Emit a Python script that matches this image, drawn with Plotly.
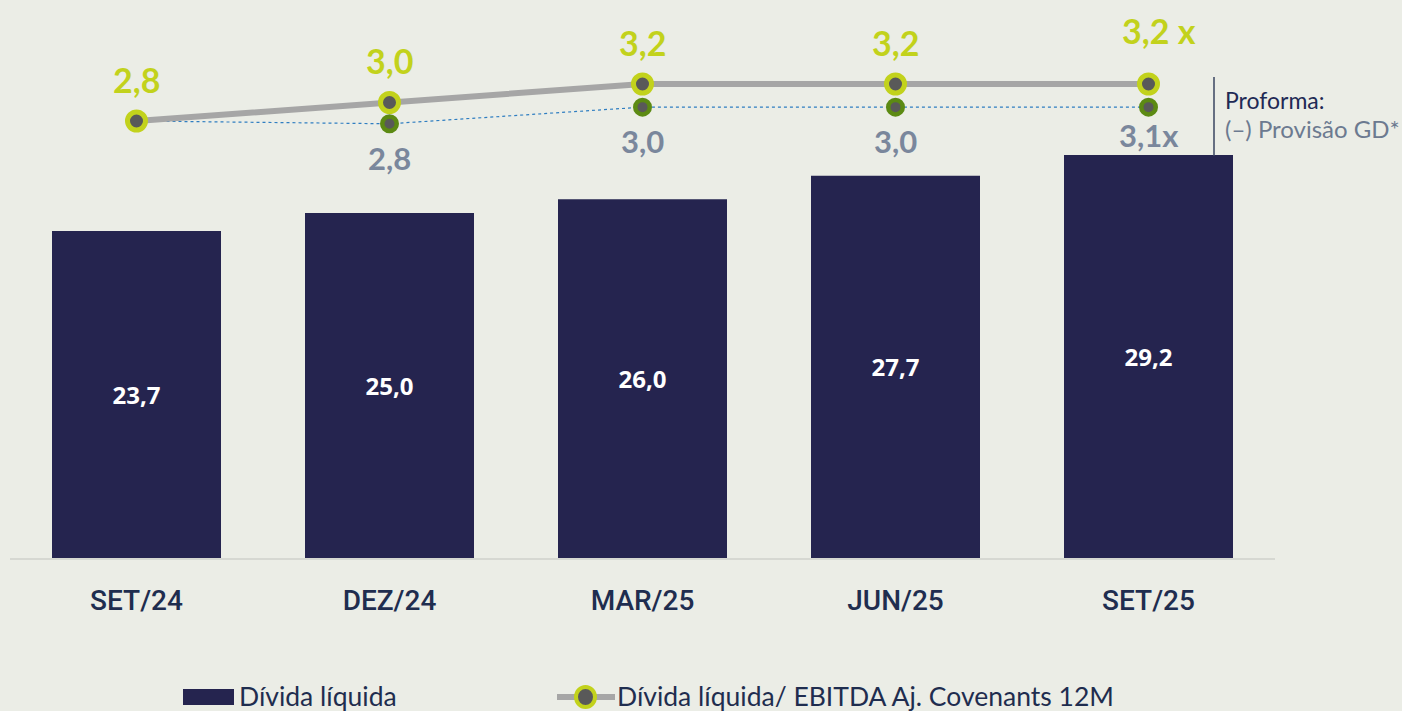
import plotly.graph_objects as go

categories = ["SET/24", "DEZ/24", "MAR/25", "JUN/25", "SET/25"]
divida_liquida = [23.7, 25.0, 26.0, 27.7, 29.2]
alavancagem = [2.8, 3.0, 3.2, 3.2, 3.2]
alavancagem_labels = ["2,8", "3,0", "3,2", "3,2", "3,2 x"]
proforma = [2.8, 2.77, 2.95, 2.95, 2.95]
proforma_labels = ["", "2,8", "3,0", "3,0", "3,1x"]

BG = "#EBEDE6"
NAVY = "#25244F"
GREEN = "#C2D21C"
DKGREEN = "#5C8A13"
GRAYTXT = "#7A879C"
TXT = "#1F2D4F"

W, H = 1402, 711
ML, MR, MT, MB = 10, 127, 0, 153
PW, PH = W - ML - MR, H - MT - MB


def px(x):
    return (x - ML) / PW


def py(y):
    return (H - MB - y) / PH


fig = go.Figure()

fig.add_trace(go.Bar(
    x=categories, y=divida_liquida,
    marker=dict(color=NAVY, line=dict(width=0)),
    width=0.668,
    text=[f"{v:.1f}".replace(".", ",") for v in divida_liquida],
    textposition="inside", insidetextanchor="middle", textangle=0,
    textfont=dict(family="Open Sans", size=24, color="white", weight="bold"),
    constraintext="none",
    name="Dívida líquida", showlegend=False, hoverinfo="skip",
))

fig.add_trace(go.Scatter(
    x=categories, y=proforma, yaxis="y2", mode="lines+markers",
    line=dict(color="#2F7EC1", width=1.2, dash="dot"),
    marker=dict(size=14.5, color="#595959", line=dict(color=DKGREEN, width=4.5)),
    showlegend=False, hoverinfo="skip",
))

fig.add_trace(go.Scatter(
    x=categories, y=alavancagem, yaxis="y2", mode="lines+markers",
    line=dict(color="#A6A6A6", width=6),
    marker=dict(size=18, color="#595959", line=dict(color=GREEN, width=5)),
    name="Dívida líquida/ EBITDA Aj. Covenants 12M", showlegend=False, hoverinfo="skip",
))

annotations = []
for i, (c, v, t) in enumerate(zip(categories, alavancagem, alavancagem_labels)):
    last = i == len(categories) - 1
    annotations.append(dict(
        x=c, y=v, xref="x", yref="y2", text=t, showarrow=False,
        yshift=54 if last else 42, xshift=10 if last else 0,
        font=dict(family="Lato", size=34, color=GREEN, weight="bold"),
    ))
for i, (c, v, t) in enumerate(zip(categories, proforma, proforma_labels)):
    if not t:
        continue
    last = i == len(categories) - 1
    annotations.append(dict(
        x=c, y=v, xref="x", yref="y2", text=t, showarrow=False,
        yshift=-28 if last else -34,
        font=dict(family="Lato", size=31, color=GRAYTXT, weight="bold"),
    ))

# Proforma note
annotations.append(dict(
    x=px(1223), y=py(100), xref="paper", yref="paper", xanchor="left", yanchor="middle",
    text="Proforma:", showarrow=False,
    font=dict(family="Lato", size=23, color="#1F2A55"),
))
annotations.append(dict(
    x=px(1223), y=py(128), xref="paper", yref="paper", xanchor="left", yanchor="middle",
    text="(–) Provisão GD*", showarrow=False,
    font=dict(family="Lato", size=24, color="#6C7A90"),
))

# manual legend texts
annotations.append(dict(
    x=px(237), y=py(696), xref="paper", yref="paper", xanchor="left", yanchor="middle",
    text="Dívida líquida", showarrow=False,
    font=dict(family="Lato", size=26.5, color=TXT),
))
annotations.append(dict(
    x=px(615), y=py(696), xref="paper", yref="paper", xanchor="left", yanchor="middle",
    text="Dívida líquida/ EBITDA Aj. Covenants 12M", showarrow=False,
    font=dict(family="Lato", size=26.5, color=TXT),
))

shapes = [
    # proforma separator
    dict(type="line", xref="paper", yref="paper", x0=px(1214), x1=px(1214),
         y0=py(156), y1=py(77), line=dict(color="#3A4560", width=1.5)),
    # legend symbols
    dict(type="rect", xref="paper", yref="paper", x0=px(183), x1=px(234),
         y0=py(705), y1=py(689), fillcolor=NAVY, line=dict(width=0)),
    dict(type="line", xref="paper", yref="paper", x0=px(557), x1=px(615),
         y0=py(697), y1=py(697), line=dict(color="#A6A6A6", width=6)),
    dict(type="circle", xref="paper", yref="paper", x0=px(576), x1=px(595),
         y0=py(707), y1=py(687), fillcolor="#595959", line=dict(color=GREEN, width=4)),
]

fig.update_layout(
    width=W, height=H,
    margin=dict(l=ML, r=MR, t=MT, b=MB),
    paper_bgcolor=BG, plot_bgcolor=BG,
    showlegend=False,
    bargap=0.33,
    xaxis=dict(
        type="category", range=[-0.5, 4.5], showgrid=False, zeroline=False,
        showline=True, linecolor="#D6D8D2", linewidth=2,
        ticks="", ticklabelstandoff=16,
        tickfont=dict(family="Roboto", size=28, color=TXT, weight=500),
        fixedrange=True,
    ),
    yaxis=dict(range=[0, PH / 13.8], visible=False, fixedrange=True),
    yaxis2=dict(range=[2.8 - 437 / 92.5, 2.8 + (PH - 437) / 92.5], overlaying="y",
                visible=False, fixedrange=True),
    annotations=annotations,
    shapes=shapes,
)

fig.write_html(
    "out.html",
    config={"displayModeBar": False},
    post_script="document.body.style.margin='0';document.body.style.overflow='hidden';",
)
